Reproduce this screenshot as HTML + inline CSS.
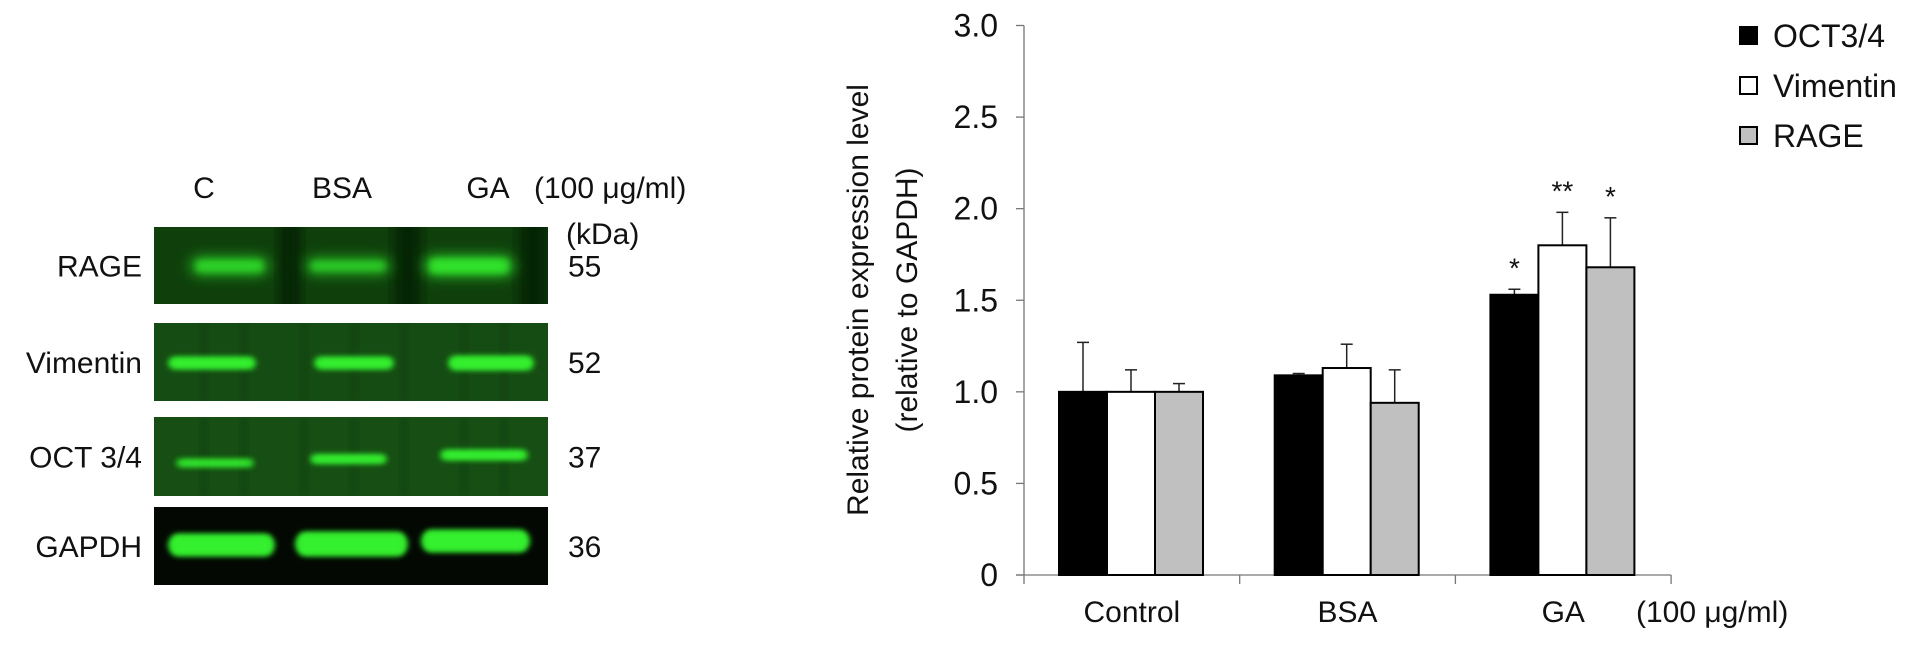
<!DOCTYPE html>
<html><head><meta charset="utf-8"><style>
body{margin:0;background:#fff;width:1913px;height:644px;overflow:hidden;font-family:"Liberation Sans",sans-serif}
svg text{font-family:"Liberation Sans",sans-serif;fill:#111}
</style></head><body>
<svg id="fig" width="1913" height="644" viewBox="0 0 1913 644">
<defs id="defs">
<filter id="blur" x="-20%" y="-150%" width="140%" height="400%"><feGaussianBlur stdDeviation="3"/></filter>
<filter id="blur2" x="-30%" y="-200%" width="160%" height="500%"><feGaussianBlur stdDeviation="7"/></filter>
</defs>
<g id="blot"></g>
<g id="chart"></g>
</svg>
<script>
const categories = ["Control","BSA","GA"];
const seriesNames = ["OCT3/4","Vimentin","RAGE"];
const oct = [1.00, 1.09, 1.53];
const vim = [1.00, 1.13, 1.80];
const rage = [1.00, 0.94, 1.68];
const octErr = [0.27, 0.01, 0.03];
const vimErr = [0.12, 0.13, 0.18];
const rageErr = [0.045, 0.18, 0.27];
const sigMarks = [["","",""],["","",""],["*","**","*"]];
const yTicks = [0,0.5,1.0,1.5,2.0,2.5,3.0];
const yTickLabels = ["0","0.5","1.0","1.5","2.0","2.5","3.0"];

const NS="http://www.w3.org/2000/svg";
function mk(tag,attrs,parent,text){const e=document.createElementNS(NS,tag);for(const k in attrs)e.setAttribute(k,attrs[k]);if(text!==undefined)e.textContent=text;parent.appendChild(e);return e;}

// ---- blot ----
const blot=document.getElementById('blot');
const defs=document.getElementById('defs');
const panels=[
 {name:"RAGE",kda:"55",y0:227,y1:304,bg:"#0f400c",soft:true,bands:[[191,268,266,16,0.85],[306,390,266,14,0.8],[425,513,266,18,1]]},
 {name:"Vimentin",kda:"52",y0:323,y1:401,bg:"#154c13",bands:[[168,256,363,12,1],[314,394,363,12,1],[448,534,363,14,1]]},
 {name:"OCT 3/4",kda:"37",y0:417,y1:496,bg:"#164e13",bands:[[176,254,463,8,0.9],[310,387,459,9,1],[440,528,455,10,1]]},
 {name:"GAPDH",kda:"36",y0:507,y1:585,bg:"#030803",bands:[[168,275,545,22,1],[295,408,544,24,1],[421,530,541,22,1]]}
];
panels.forEach((p,pi)=>{
  const cp=mk('clipPath',{id:'cp'+pi},defs);
  mk('rect',{x:154,y:p.y0,width:394,height:p.y1-p.y0},cp);
  const g=mk('g',{'clip-path':'url(#cp'+pi+')'},blot);
  
  
  const r=mk('rect',{x:154,y:p.y0,width:394,height:p.y1-p.y0,fill:p.bg},g);
  
  
  if(p.soft){
    [[280,300],[395,420],[520,547]].forEach(d=>{
      const s=mk('rect',{x:d[0],y:p.y0-20,width:d[1]-d[0],height:p.y1-p.y0+40,fill:"#031203",opacity:0.7,filter:"url(#blur2)"},g);
      
      
    });
  } else if(p.name!=="GAPDH"){
    [200,240,300,350,400,460,500].forEach(x=>{
      const s=mk('rect',{x:x,y:p.y0,width:8,height:p.y1-p.y0,fill:"#0a300a",opacity:0.25,filter:"url(#blur)"},g);
      
      
    });
  }
  p.bands.forEach(b=>{
    const e=mk('rect',{x:b[0],y:b[2]-b[3]/2,width:b[1]-b[0],height:b[3],rx:b[3]/2,fill:"#2ee82a",opacity:b[4],filter:p.soft?"url(#blur2)":"url(#blur)"},g);
    
    
    const e2=mk('rect',{x:b[0]+5,y:b[2]-b[3]/2+2,width:b[1]-b[0]-10,height:Math.max(3,b[3]-4),rx:3,fill:"#35f02e",opacity:p.soft?0.6*b[4]:b[4],filter:"url(#blur)"},g);
    
    
  });
  const t=mk('text',{x:142,y:(p.y0+p.y1)/2+11,'font-size':30,'text-anchor':'end'},blot,p.name);
  
  
  const k=mk('text',{x:568,y:(p.y0+p.y1)/2+11,'font-size':30},blot,p.kda);
  
  
});
[["C",204],["BSA",342],["GA",488]].forEach(h=>{
  const t=mk('text',{x:h[1],y:198,'font-size':30,'text-anchor':'middle'},blot,h[0]);
  
  
});
let t1=mk('text',{x:534,y:198,'font-size':30},blot,"(100 μg/ml)");


let t2=mk('text',{x:566,y:244,'font-size':30},blot,"(kDa)");



// ---- chart ----
const chart=document.getElementById('chart');
const X0=1024, Y0=575, Y3=25.5, catW=215.7, barW=48, groupPad=35;
const yScale=v=>Y0-(v/3)*(Y0-Y3);
const xBar=(ci,si)=>X0+ci*catW+groupPad+si*barW;
const fills=["#000","#fff","#c0c0c0"];
const vals=[oct,vim,rage], errs=[octErr,vimErr,rageErr];

let ax=mk('line',{x1:X0,y1:Y3,x2:X0,y2:Y0,stroke:'#777','stroke-width':1.3},chart);


let xa=mk('line',{x1:X0-8,y1:Y0,x2:X0+3*catW,y2:Y0,stroke:'#777','stroke-width':1.3},chart);


yTicks.forEach((v,i)=>{
  const y=yScale(v);
  const tk=mk('line',{x1:X0-8,y1:y,x2:X0,y2:y,stroke:'#777','stroke-width':1.3},chart);
  
  
  const tl=mk('text',{x:X0-26,y:y+11,'font-size':32,'text-anchor':'end'},chart,yTickLabels[i]);
  
  
});
for(let c=0;c<=3;c++){
  const x=X0+c*catW;
  const tk=mk('line',{x1:x,y1:Y0,x2:x,y2:Y0+9,stroke:'#777','stroke-width':1.3},chart);
  
  
}
categories.forEach((c,i)=>{
  const tl=mk('text',{x:X0+(i+0.5)*catW,y:622,'font-size':30,'text-anchor':'middle'},chart,c);
  
  
});
let ul=mk('text',{x:1636,y:622,'font-size':30},chart,"(100 μg/ml)");


let yt=mk('text',{transform:'translate(868,300) rotate(-90)','font-size':30,'text-anchor':'middle'},chart,"Relative protein expression level");


let yt2=mk('text',{transform:'translate(917,300) rotate(-90)','font-size':30,'text-anchor':'middle'},chart,"(relative to GAPDH)");



categories.forEach((c,ci)=>{
  vals.forEach((arr,si)=>{
    const x=xBar(ci,si), y=yScale(arr[ci]);
    const ex=x+barW/2, ey=yScale(arr[ci]+errs[si][ci]);
    const el=mk('line',{x1:ex,y1:y,x2:ex,y2:ey,stroke:'#222','stroke-width':1.5},chart);
    
    
    const ec=mk('line',{x1:ex-6,y1:ey,x2:ex+6,y2:ey,stroke:'#222','stroke-width':1.5},chart);
    
    
    const b=mk('rect',{x:x,y:y,width:barW,height:Y0-y,fill:fills[si],stroke:'#000','stroke-width':2},chart);
    
    
    if(sigMarks[ci][si]){
      const s=mk('text',{x:ex,y:ey-12,'font-size':28,'text-anchor':'middle'},chart,sigMarks[ci][si]);
      
      
    }
  });
});
// legend
seriesNames.forEach((n,i)=>{
  const y=36+i*50;
  const sq=mk('rect',{x:1740,y:y-9,width:17,height:17,fill:fills[i],stroke:'#000','stroke-width':2},chart);
  
  
  const lt=mk('text',{x:1773,y:y+11,'font-size':32},chart,n);
  
  
});
</script>
</body></html>
